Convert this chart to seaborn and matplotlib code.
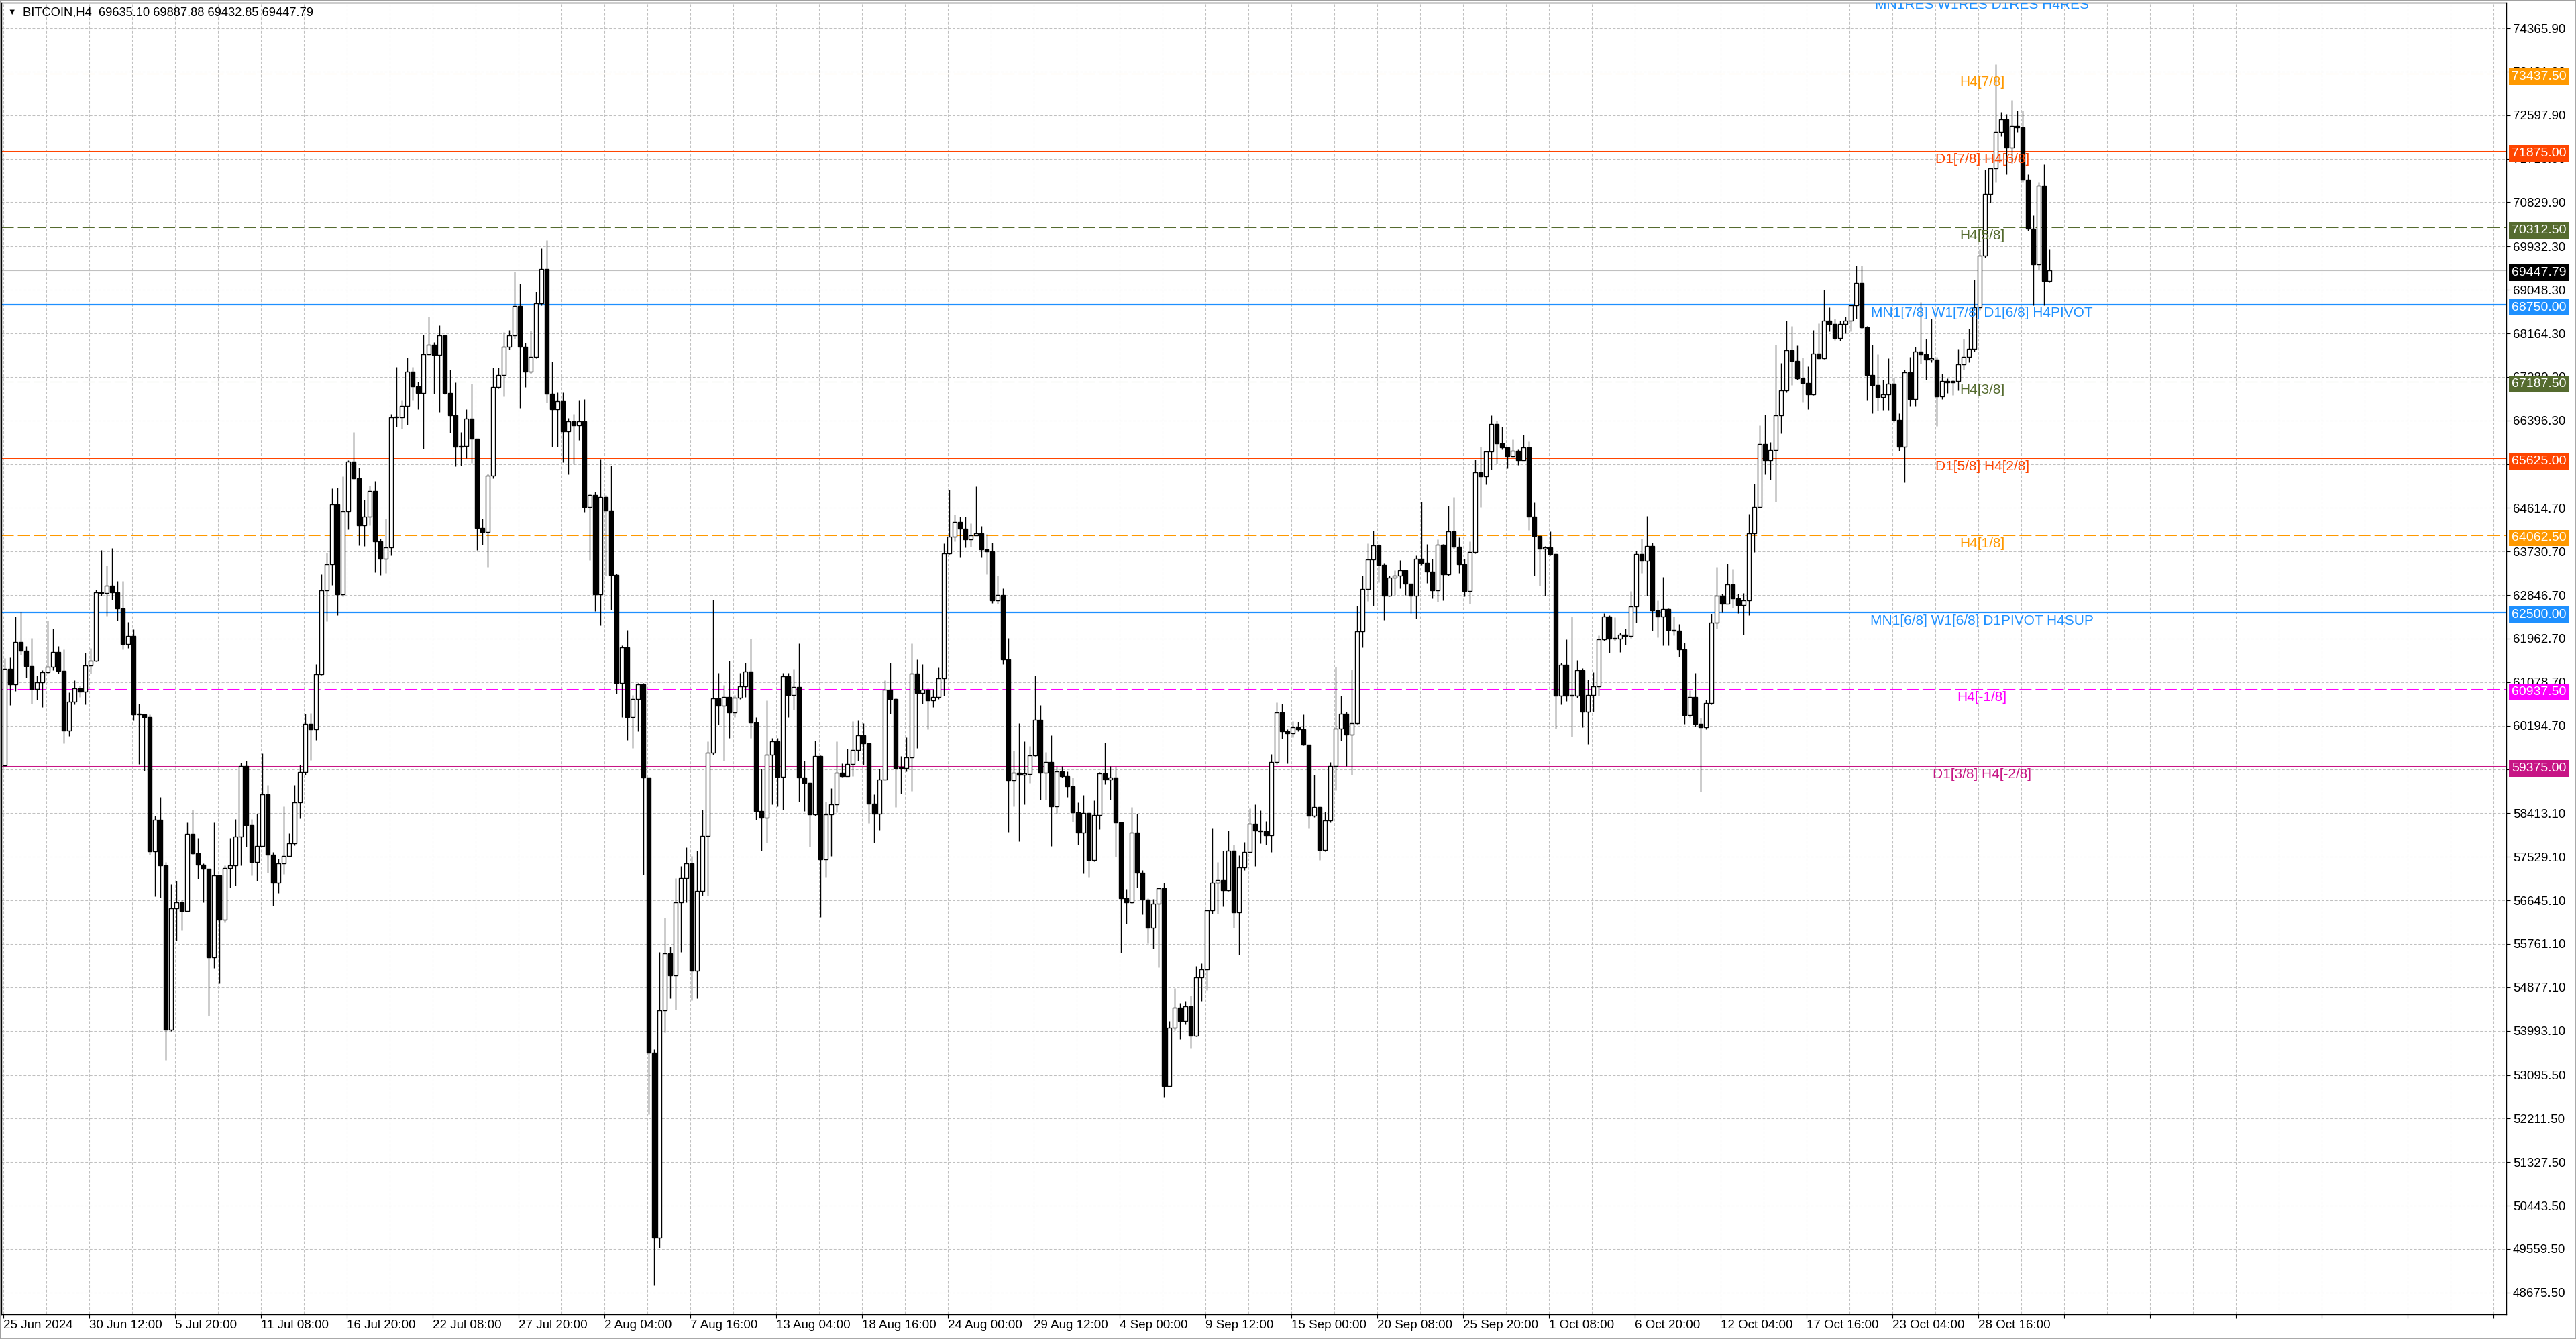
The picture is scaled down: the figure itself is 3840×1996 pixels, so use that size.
import numpy as np
import pandas as pd
import seaborn as sns
import matplotlib
matplotlib.use("Agg")
import matplotlib.pyplot as plt
from matplotlib.transforms import offset_copy

# BITCOIN H4 chart, candles (each bar = two H4 candles)
first_open = 59390
highs = [
    61565, 61586, 62414, 62504, 61809, 61983, 61218, 61322, 62330, 62170,
    61809, 61739, 60870, 61113, 61009, 61670, 61774, 62956, 63756, 63443,
    63805, 63130, 63130, 62309, 62156, 60647, 60432, 60418, 58366, 58749,
    57428, 56976, 57045, 56663, 58227, 58492, 57914, 57393, 57254, 58227,
    57163, 57358, 57914, 58297, 59444, 59479, 58297, 58401, 59632, 58992,
    57630, 57490, 58560, 58015, 58990, 59400, 60436, 60445, 61445, 63277,
    63703, 65018, 65033, 65258, 65594, 66155, 65445, 64787, 65071, 65161,
    63987, 64398, 66529, 67478, 66805, 67672, 67478, 67179, 68136, 68510,
    67986, 68323, 68099, 67426, 67164, 66155, 66626, 67142, 65983, 64398,
    65310, 67463, 67463, 68196, 68226, 69422, 69168, 67971, 68220, 69014,
    69890, 70057, 67595, 66969, 66969, 66441, 66524, 66803, 66830, 64911,
    64952, 65620, 64883, 65481, 63284, 61823, 62143, 60822, 61058, 61058,
    59042, 53617, 55592, 56288, 55704, 57094, 57345, 57720, 57540, 57651,
    58485, 59876, 62755, 61267, 61017, 61517, 60822, 61267, 61475, 61962,
    60363, 59320, 60711, 59946, 59946, 61267, 61267, 61352, 61869, 59488,
    59040, 59889, 59585, 58656, 58926, 59878, 59431, 59729, 60291, 60303,
    60251, 59832, 58799, 59316, 61123, 61467, 60762, 59574, 59958, 61869,
    61542, 61438, 60951, 60934, 61381, 63894, 64995, 64479, 64450, 64450,
    64307, 65053, 64250, 64089, 63905, 63246, 62987, 61983, 59689, 60245,
    59878, 59786, 61209, 60607, 59660, 60003, 59377, 59377, 59260, 59142,
    58634, 58790, 58438, 58673, 59244, 59846, 59377, 59354, 58180, 56873,
    58540, 58399, 57265, 56693, 56678, 56912, 57006, 54190, 54863, 54565,
    54604, 54706, 55309, 55363, 56459, 58102, 57421, 57656, 58063, 57773,
    57554, 57836, 58516, 58595, 58477, 58258, 59612, 60668, 60645, 60120,
    60292, 60277, 60418, 59713, 59197, 58554, 58445, 59455, 61385, 60806,
    60471, 61340, 62626, 63238, 63894, 64151, 63881, 63508, 63238, 63353,
    63559, 63270, 63077, 63656, 64749, 63881, 63591, 63977, 63881, 64666,
    64833, 64022, 63591, 63945, 65605, 65862, 65779, 66505, 66390, 66274,
    65862, 66017, 65811, 66100, 65972, 64730, 64061, 63849, 64138, 63688,
    61468, 61951, 62406, 61524, 61360, 61136, 61285, 62033, 62481, 62444,
    62392, 62092, 62167, 62930, 63752, 63991, 64462, 63917, 62743, 63214,
    62571, 62406, 62257, 61883, 60911, 61270, 60351, 60724, 62466, 63416,
    62870, 63490, 63378, 62870, 62893, 64500, 65113, 66294, 66518, 65958,
    67939, 67565, 68425, 68313, 67924, 67677, 67490, 68238, 68372, 69045,
    68701, 68462, 68425, 68510, 68752, 69545, 69535, 68314, 67928, 67741,
    67219, 67657, 67271, 66541, 67428, 67688, 67897, 68805, 68054, 68471,
    67688, 67344, 67250, 67219, 67845, 68054, 68262, 69253, 69879, 71496,
    71517, 73634, 72664, 72622, 72904, 72695, 72695, 71391, 70557, 71235,
    71600, 69888,
]
lows = [
    59375, 60613, 60905, 61635, 61169, 60647, 60717, 60578, 61252, 61322,
    61252, 59841, 59987, 60627, 60780, 60627, 61252, 61496, 62838, 62421,
    62748, 62330, 61739, 61774, 60300, 59410, 59284, 57567, 56732, 56698,
    53408, 53985, 55828, 56037, 56732, 57567, 57080, 56607, 54298, 55272,
    54959, 56197, 56906, 56941, 57358, 57741, 57150, 57045, 57741, 57200,
    56540, 56790, 57175, 57620, 57765, 58310, 59200, 59500, 59910, 61220,
    62320, 63052, 62439, 62828, 64189, 65205, 63860, 63837, 64263, 63314,
    63254, 63292, 63650, 66267, 66230, 66304, 66805, 66626, 65818, 67725,
    66940, 66566, 66925, 66147, 65460, 65482, 65631, 65534, 63762, 63875,
    63426, 65220, 67052, 66880, 67837, 68061, 66656, 67074, 67350, 67665,
    68735, 66761, 65857, 65857, 65551, 65300, 65509, 65996, 64535, 63562,
    62519, 62240, 63242, 62546, 60850, 60363, 59904, 59737, 60085, 57164,
    52296, 48819, 49584, 53965, 54661, 54424, 55592, 56608, 54619, 54661,
    56747, 56747, 59598, 60224, 59487, 59946, 60363, 60738, 60780, 59946,
    58277, 57651, 57818, 58597, 58555, 58485, 60363, 60521, 58656, 58455,
    57738, 58369, 56300, 57107, 57549, 58427, 59155, 59258, 59172, 59488,
    59402, 58214, 57824, 58082, 59086, 60434, 58541, 58811, 59258, 58868,
    59746, 60635, 60119, 60578, 60739, 60807, 63676, 63934, 63607, 63819,
    63831, 64066, 63607, 63274, 62689, 62672, 61450, 58036, 58558, 57853,
    58599, 59029, 59574, 58696, 58696, 57757, 58399, 59142, 58751, 58243,
    57773, 57186, 57108, 57444, 58086, 59009, 58696, 57538, 55582, 56169,
    56584, 56912, 56365, 55778, 55661, 55285, 52633, 52985, 54002, 53822,
    54119, 53642, 53877, 54604, 54816, 56380, 56380, 56521, 56834, 56091,
    55543, 57265, 57617, 57343, 57812, 57773, 57632, 59416, 59925, 59432,
    59964, 60081, 59792, 58102, 58337, 57461, 57641, 58233, 58876, 59892,
    59378, 59198, 60227, 61790, 62723, 62626, 63109, 62350, 62819, 62852,
    62980, 62852, 62478, 62369, 63463, 63096, 62774, 62710, 62736, 63250,
    63784, 63302, 62819, 62671, 63688, 64640, 65103, 65393, 65521, 65811,
    65425, 65650, 65489, 65618, 64170, 63250, 63045, 62839, 63656, 60137,
    60632, 60696, 59977, 60762, 60164, 59827, 60478, 60799, 61921, 61674,
    61921, 61696, 61846, 61973, 62294, 63304, 62840, 62122, 61995, 61823,
    61823, 62033, 61599, 60238, 60373, 60179, 58855, 60126, 60627, 62167,
    62496, 62990, 62593, 62481, 62048, 62444, 63715, 64649, 65307, 65188,
    64739, 66129, 66967, 67116, 67228, 66780, 66630, 66907, 67640, 67640,
    68200, 68028, 68013, 68163, 68210, 68471, 68262, 66802, 66541, 66593,
    66614, 66614, 66364, 65780, 65133, 66698, 66698, 67553, 67219, 67584,
    66280, 66823, 66958, 66906, 67010, 67428, 67584, 67793, 68648, 69702,
    70818, 71235, 72174, 71391, 71621, 72247, 71235, 70244, 68732, 69462,
    68732, 69201,
]
closes = [
    61343, 61030, 61899, 61718, 61405, 60946, 61079, 61287, 61391, 61684,
    61308, 60091, 60675, 60960, 60891, 61412, 61517, 62901, 62887, 63040,
    62901, 62574, 61857, 62017, 60418, 60418, 60369, 57636, 58276, 57358,
    54020, 56489, 56607, 56433, 57998, 57602, 57372, 57289, 55494, 57150,
    56246, 57303, 57358, 57935, 59375, 58172, 57428, 57755, 58805, 57570,
    57000, 57390, 57540, 57810, 58640, 59245, 60230, 60125, 61243, 62940,
    63478, 64682, 62865, 64547, 65557, 65220, 64263, 64450, 64959, 63934,
    63591, 63815, 66454, 66454, 66693, 67388, 67089, 66955, 67740, 67927,
    67725, 68121, 66955, 66506, 65856, 65871, 66431, 66028, 64211, 64136,
    65280, 67074, 67314, 67897, 68121, 68719, 67897, 67388, 67690, 68777,
    69473, 66941, 66621, 66788, 66176, 66385, 66302, 66385, 64633, 64883,
    62866, 64841, 64563, 63256, 61058, 61782, 60363, 60738, 61030, 59139,
    53548, 49793, 54410, 55565, 55119, 56608, 57094, 57400, 55217, 56844,
    57957, 59640, 60752, 60599, 60780, 60460, 60766, 60989, 61295, 60265,
    58457, 58318, 59598, 59876, 59153, 61197, 60822, 60980, 59144, 59029,
    58398, 59574, 57480, 58386, 58599, 59230, 59172, 59413, 59700, 60004,
    59832, 58610, 58409, 59098, 60922, 60739, 59327, 59327, 59545, 61255,
    60865, 60922, 60710, 60779, 61163, 63687, 64032, 64336, 64192, 63974,
    64060, 64106, 63779, 63733, 62746, 62844, 61542, 59086, 59230, 59201,
    59213, 59585, 60320, 59230, 59455, 58556, 59260, 59166, 58962, 58438,
    58024, 58415, 57460, 58383, 59221, 59103, 59142, 58227, 56693, 56600,
    58024, 57210, 56662, 56091, 56584, 56889, 52868, 54057, 54471, 54190,
    54487, 53900, 55074, 55246, 56443, 57006, 57053, 56850, 57656, 56404,
    57319, 57632, 58203, 58070, 58047, 57969, 59455, 60457, 60081, 60042,
    60159, 60120, 59807, 58360, 58541, 57673, 58271, 59378, 60137, 60439,
    60008, 60246, 62112, 62967, 63572, 63862, 63463, 62839, 63205, 63238,
    63353, 63077, 62839, 63591, 63508, 63328, 62948, 63868, 63270, 64138,
    63829, 63476, 62929, 63720, 65348, 65264, 65759, 66325, 65927, 65843,
    65669, 65779, 65586, 65843, 64440, 64042, 63784, 63816, 63675, 60806,
    61436, 60806, 60799, 61322, 60478, 60822, 61001, 61943, 62406, 61958,
    61958, 62048, 62018, 62616, 63677, 63543, 63842, 62534, 62406, 62556,
    62145, 62122, 61749, 60403, 60777, 60238, 60164, 60650, 62294, 62840,
    62668, 63064, 62780, 62646, 62743, 64104, 64634, 65920, 65584, 65786,
    66503, 67004, 67827, 67602, 67251, 67154, 66929, 67752, 67655, 68425,
    68350, 68073, 68350, 68418, 68732, 69180, 68283, 67323, 67115, 66875,
    66927, 67136, 66405, 65863, 67376, 66823, 67793, 67741, 67636, 67636,
    66885, 67198, 67167, 67198, 67532, 67688, 67845, 68700, 69743, 70995,
    71517, 72247, 72518, 71934, 72382, 72351, 71287, 70296, 69566, 71162,
    69222, 69447.79,
]

# murrey style levels drawn by the indicator
level_prices = [75000, 73437.5, 71875, 70312.5, 68750, 67187.5, 65625, 64062.5, 62500, 60937.5, 59375]
level_names = ["MN1RES W1RES D1RES H4RES", "H4[7/8]", "D1[7/8] H4[6/8]", "H4[5/8]",
               "MN1[7/8] W1[7/8] D1[6/8] H4PIVOT", "H4[3/8]", "D1[5/8] H4[2/8]", "H4[1/8]",
               "MN1[6/8] W1[6/8] D1PIVOT H4SUP", "H4[-1/8]", "D1[3/8] H4[-2/8]"]
level_colors = ["#1E90FF", "#FF9900", "#FF4500", "#556B2F", "#1E90FF", "#556B2F",
                "#FF4500", "#FF9900", "#1E90FF", "#FF00FF", "#C71585"]
level_dashed = [False, True, False, True, False, True, False, True, False, True, False]
level_width = [1.6, 0.75, 0.75, 0.75, 1.6, 0.75, 0.75, 0.75, 1.6, 0.75, 0.75]

price_ticks = [74365.90, 73481.90, 72597.90, 71713.90, 70829.90, 69932.30, 69048.30,
               68164.30, 67280.30, 66396.30, 65505.50, 64614.70, 63730.70, 62846.70,
               61962.70, 61078.70, 60194.70, 59303.90, 58413.10, 57529.10, 56645.10,
               55761.10, 54877.10, 53993.10, 53095.50, 52211.50, 51327.50, 50443.50,
               49559.50, 48675.50]
time_labels = ["25 Jun 2024", "30 Jun 12:00", "5 Jul 20:00", "11 Jul 08:00", "16 Jul 20:00",
               "22 Jul 08:00", "27 Jul 20:00", "2 Aug 04:00", "7 Aug 16:00", "13 Aug 04:00",
               "18 Aug 16:00", "24 Aug 00:00", "29 Aug 12:00", "4 Sep 00:00", "9 Sep 12:00",
               "15 Sep 00:00", "20 Sep 08:00", "25 Sep 20:00", "1 Oct 08:00", "6 Oct 20:00",
               "12 Oct 04:00", "17 Oct 16:00", "23 Oct 04:00", "28 Oct 16:00"]
last_price = 69447.79
header = "BITCOIN,H4  69635.10 69887.88 69432.85 69447.79"

sns.set_theme(style="white")
plt.rcParams["font.family"] = ["Liberation Sans", "DejaVu Sans"]

df = pd.DataFrame({"high": highs, "low": lows, "close": closes})
df["open"] = df["close"].shift(1).fillna(first_open)
df["high"] = df[["high", "open", "close"]].max(axis=1)
df["low"] = df[["low", "open", "close"]].min(axis=1)
df["x"] = np.arange(len(df)) * 2 + 0.5   # position in H4 bar units
df["up"] = df["close"] >= df["open"]

W, H = 3840, 1996
fig = plt.figure(figsize=(W / 100, H / 100), dpi=100)
ax = fig.add_axes([2 / W, 1 - 1959 / H, 3734 / W, 1955 / H])
ax.set_xlim(-0.8, 932.7)
ax.set_ylim(48237, 74884)

# grid + axes
grid_x = np.arange(0, 933, 32)
ax.set_xticks(grid_x)
ax.set_xticklabels(time_labels + [""] * (len(grid_x) - len(time_labels)), ha="left")
ax.set_xticks(np.arange(16, 933, 32), minor=True)
ax.set_yticks(price_ticks)
ax.set_yticklabels([f"{p:.2f}" for p in price_ticks])
ax.yaxis.tick_right()
ax.tick_params(axis="y", which="major", left=False, right=True, labelleft=False, labelright=True,
               direction="out", length=4, width=0.8, pad=3, labelsize=13.5, colors="black")
ax.tick_params(axis="x", which="major", bottom=True, direction="out", length=4, width=0.8,
               pad=2, labelsize=13.5, colors="black")
ax.tick_params(axis="x", which="minor", bottom=False)
ax.grid(True, which="both", color="#c0c0c0", linestyle=(0, (3.8, 2.5)), linewidth=0.75)
for s in ax.spines.values():
    s.set_color("black")
    s.set_linewidth(1.0)

# levels
lbl_tr = offset_copy(ax.transData, fig=fig, x=0, y=-3, units="dots")
for p, name, col, dashed, lw in zip(level_prices, level_names, level_colors, level_dashed, level_width):
    ls = (0, (17.3, 5.8)) if dashed else "-"
    ax.axhline(p, color=col, linestyle=ls, linewidth=lw, zorder=1)
    ax.text(737.4, p, name, transform=lbl_tr, ha="center", va="top", color=col,
            fontsize=15, zorder=5, clip_on=True)
ax.axhline(last_price, color="#c0c0c0", linewidth=0.8, zorder=1)

# candles
ax.vlines(df["x"], df["low"], df["high"], color="black", linewidth=1.0, zorder=3)
body = np.maximum((df["close"] - df["open"]).abs(), 18)
ax.bar(df["x"], body, bottom=df[["open", "close"]].min(axis=1), width=1.5,
       color=np.where(df["up"], "white", "black"), edgecolor="black", linewidth=1.0, zorder=4)

# price tags on the right scale
tag_tr = offset_copy(ax.get_yaxis_transform(), fig=fig, x=8, y=-4, units="dots")
tags = [(p, c) for p, c in zip(level_prices, level_colors) if p < 74884] + [(last_price, "black")]
for p, c in tags:
    ax.text(1.0, p, f"{p:.2f}", transform=tag_tr, ha="left", va="center", color="white",
            fontsize=14, zorder=8, clip_on=False,
            bbox=dict(boxstyle="square,pad=0.2", fc=c, ec="none"))

# header
ax.text(0.0026, 0.9925, "\u25bc", transform=ax.transAxes, ha="left", va="center", fontsize=9, color="black")
ax.text(0.0085, 0.9925, header, transform=ax.transAxes, ha="left", va="center", fontsize=13.2, color="black")

fig.patches.append(plt.Rectangle((0, 0), 1, 1, transform=fig.transFigure, fill=False,
                                 edgecolor="#a0a0a0", linewidth=2))
fig.savefig("out.png", dpi=100)
